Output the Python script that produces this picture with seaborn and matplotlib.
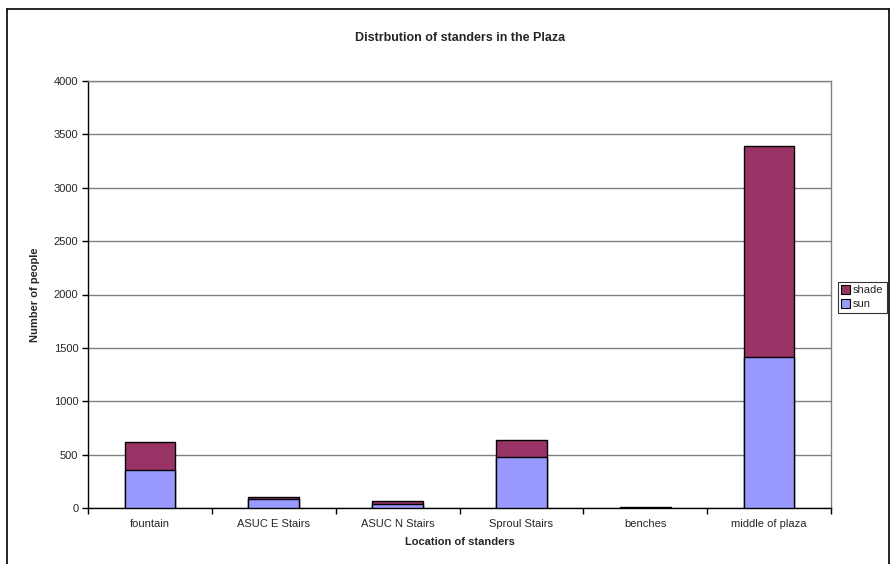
import matplotlib
matplotlib.use("Agg")
import matplotlib.pyplot as plt
import seaborn as sns
import pandas as pd
from matplotlib.patches import Patch
from matplotlib.lines import Line2D
from matplotlib.ticker import FixedLocator

categories = ["fountain", "ASUC E Stairs", "ASUC N Stairs", "Sproul Stairs", "benches", "middle of plaza"]
sun = [360, 80, 40, 475, 3, 1415]
shade = [260, 20, 25, 160, 3, 1975]
y_ticks = [0, 500, 1000, 1500, 2000, 2500, 3000, 3500, 4000]

sun_color = "#9999FF"
shade_color = "#993366"

sns.set_theme(style="white")
plt.rcParams["font.family"] = ["Liberation Sans", "DejaVu Sans"]

df = pd.DataFrame({
    "location": categories,
    "sun": sun,
    "shade": shade,
})
df["total"] = df["sun"] + df["shade"]

W, H = 896, 564
fig = plt.figure(figsize=(W / 100, H / 100), dpi=100)
ax = fig.add_axes([88 / W, 1 - 508 / H, (831 - 88) / W, (508 - 81) / H])

# stacked bars: the full height in the shade colour, the sun part drawn over it
sns.barplot(data=df, x="location", y="total", order=categories, color=shade_color,
            saturation=1, width=0.41, edgecolor="black", linewidth=1, ax=ax, zorder=3)
sns.barplot(data=df, x="location", y="sun", order=categories, color=sun_color,
            saturation=1, width=0.41, edgecolor="black", linewidth=1, ax=ax, zorder=4)

ax.set_xlim(-0.5, len(categories) - 0.5)
ax.set_ylim(0, 4000)
ax.yaxis.set_major_locator(FixedLocator(y_ticks))
ax.set_yticklabels([str(v) for v in y_ticks])
ax.grid(axis="y", color="#808080", linewidth=1, zorder=0)
ax.grid(axis="x", visible=False)

for side in ("top", "right"):
    ax.spines[side].set_color("#808080")
    ax.spines[side].set_linewidth(1)
for side in ("left", "bottom"):
    ax.spines[side].set_color("black")
    ax.spines[side].set_linewidth(1)

ax.tick_params(axis="y", which="major", direction="out", length=4, width=1,
               color="black", labelsize=8, pad=3, left=True)
ax.tick_params(axis="x", which="major", length=0, labelsize=8, pad=8)
ax.xaxis.set_minor_locator(FixedLocator([i - 0.5 for i in range(len(categories) + 1)]))
ax.tick_params(axis="x", which="minor", direction="out", length=4, width=1,
               color="black", bottom=True)

ax.set_xlabel("Location of standers", fontsize=8, fontweight="bold", labelpad=6)
ax.set_ylabel("Number of people", fontsize=8, fontweight="bold", labelpad=10)
fig.text(460 / W, 1 - 38 / H, "Distrbution of standers in the Plaza",
         ha="center", va="center", fontsize=9, fontweight="bold")

handles = [Patch(facecolor=shade_color, edgecolor="black", linewidth=0.8, label="shade"),
           Patch(facecolor=sun_color, edgecolor="black", linewidth=0.8, label="sun")]
leg = fig.legend(handles=handles, loc="upper left",
                 bbox_to_anchor=(838 / W, 1 - 282 / H), fontsize=8,
                 frameon=True, fancybox=False, borderpad=0.3, labelspacing=0.35,
                 handlelength=0.8, handleheight=0.8, handletextpad=0.25,
                 borderaxespad=0)
leg.get_frame().set_edgecolor("black")
leg.get_frame().set_linewidth(0.8)

# outer chart border
for xs, ys in [((7 / W, 7 / W), (0, 1 - 9 / H)),
               ((7 / W, 889 / W), (1 - 9 / H, 1 - 9 / H)),
               ((889 / W, 889 / W), (0, 1 - 9 / H))]:
    fig.add_artist(Line2D(xs, ys, color="black", linewidth=1.2, transform=fig.transFigure))

fig.savefig("out.png", dpi=100)
